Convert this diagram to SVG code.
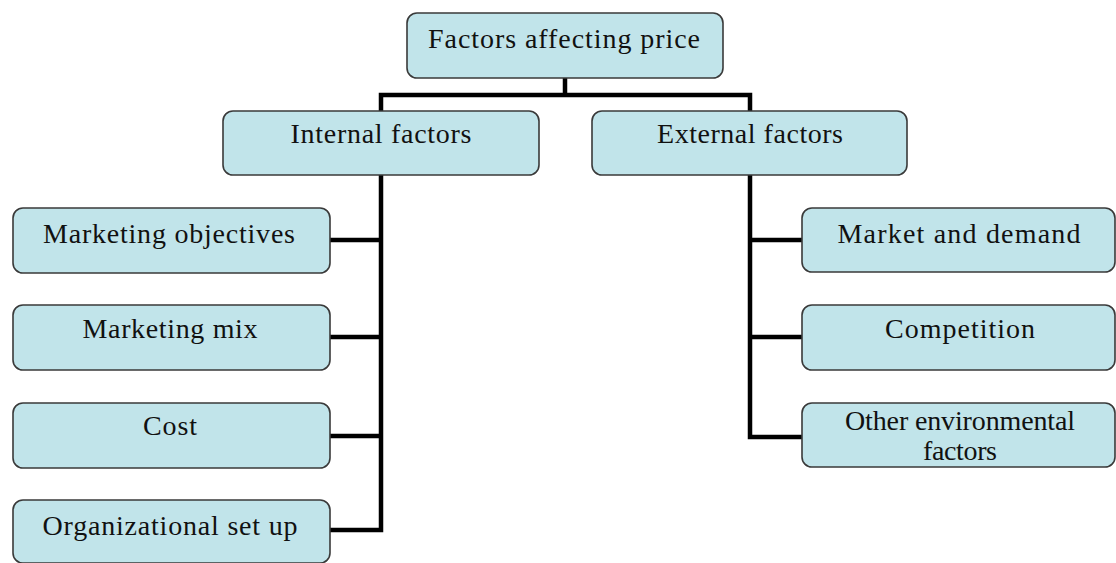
<svg xmlns="http://www.w3.org/2000/svg" width="1116" height="563" viewBox="0 0 1116 563">
<style>
.box{fill:#c1e4ea;stroke:#3a3a3a;stroke-width:1.6}
.t{font-family:"Liberation Serif","Times New Roman",serif;font-size:28px;fill:#111;text-anchor:middle}
.c{fill:none;stroke:#000;stroke-width:4.5;stroke-linejoin:miter;stroke-linecap:butt}
</style>
<rect width="1116" height="563" fill="#fff"/>
<g id="connectors">
<path class="c" d="M565,78 V95"/>
<path class="c" d="M381,111 V95 H750 V111"/>
<path class="c" d="M381,175 V530 H330"/>
<path class="c" d="M330,240 H381 M330,337 H381 M330,436 H381"/>
<path class="c" d="M750,175 V437 H802"/>
<path class="c" d="M750,240 H802 M750,337 H802"/>
</g>
<g id="root"><rect class="box" x="407" y="13" width="316" height="65" rx="10"/><text class="t" x="564" y="48" textLength="272" lengthAdjust="spacing">Factors affecting price</text></g>
<g id="internal"><rect class="box" x="223" y="111" width="316" height="64" rx="10"/><text class="t" x="381" y="143" textLength="181" lengthAdjust="spacing">Internal factors</text></g>
<g id="external"><rect class="box" x="592" y="111" width="315" height="64" rx="10"/><text class="t" x="750" y="143" textLength="186" lengthAdjust="spacing">External factors</text></g>
<g id="marketing-objectives"><rect class="box" x="13" y="208" width="317" height="65" rx="10"/><text class="t" x="169" y="243" textLength="252" lengthAdjust="spacing">Marketing objectives</text></g>
<g id="marketing-mix"><rect class="box" x="13" y="305" width="317" height="65" rx="10"/><text class="t" x="170" y="338" textLength="175" lengthAdjust="spacing">Marketing mix</text></g>
<g id="cost"><rect class="box" x="13" y="403" width="317" height="65" rx="10"/><text class="t" x="170" y="435" textLength="54" lengthAdjust="spacing">Cost</text></g>
<g id="organizational"><rect class="box" x="13" y="500" width="317" height="63" rx="10"/><text class="t" x="170" y="535" textLength="255" lengthAdjust="spacing">Organizational set up</text></g>
<g id="market-demand"><rect class="box" x="802" y="208" width="313" height="64" rx="10"/><text class="t" x="959" y="243" textLength="243" lengthAdjust="spacing">Market and demand</text></g>
<g id="competition"><rect class="box" x="802" y="305" width="313" height="65" rx="10"/><text class="t" x="960" y="338" textLength="150" lengthAdjust="spacing">Competition</text></g>
<g id="other"><rect class="box" x="802" y="403" width="313" height="64" rx="10"/><text class="t" x="960" y="430" textLength="230" lengthAdjust="spacing">Other environmental</text><text class="t" x="960" y="460" textLength="74" lengthAdjust="spacing">factors</text></g>
</svg>
